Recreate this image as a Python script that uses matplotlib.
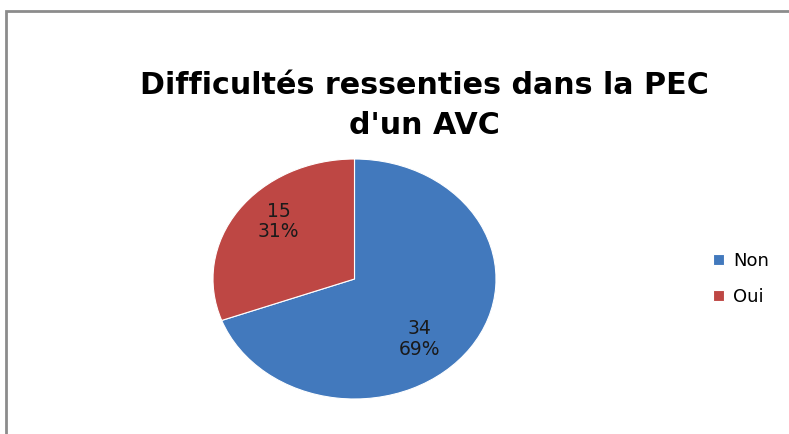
import matplotlib.pyplot as plt
from matplotlib.patches import Rectangle

# data
labels = ['Non', 'Oui']
counts = [34, 15]
colors = ['#4279BD', '#BE4744']
title_lines = ["Difficultés ressenties dans la PEC", "d'un AVC"]

W, H = 789, 434
fig = plt.figure(figsize=(W / 100, H / 100), dpi=100)

# chart area border (only left and top are visible in the crop)
fig.add_artist(Rectangle((5.5 / W, -0.1), 2.0, 1.1 - 11 / H, transform=fig.transFigure,
                         fill=False, edgecolor='#8c8c8c', linewidth=2))

# pie box in pixels: x 213..496, y 159..399 (from top)
ax = fig.add_axes([213 / W, (H - 399) / H, 283 / W, 240 / H])
total = sum(counts)
wedges, texts = ax.pie(counts, colors=colors, startangle=90, counterclock=False,
                       wedgeprops=dict(linewidth=0.8, edgecolor='white'))
ax.set_aspect('auto')
ax.set_xlim(-1, 1)
ax.set_ylim(-1, 1)

# data labels: value and percentage
label_pos = [(0.46, -0.5), (-0.535, 0.48)]
for c, (x, y) in zip(counts, label_pos):
    ax.text(x, y, f'{c}\n{c / total:.0%}', ha='center', va='center',
            fontsize=13.5, family='DejaVu Sans', color='#1a1a1a', linespacing=1.1)

for line, base in zip(title_lines, [94, 134]):
    fig.text(424 / W, 1 - base / H, line, ha='center', va='baseline', fontsize=21.7,
             fontweight='bold', family='DejaVu Sans')

leg = fig.legend(wedges, labels, loc='center left', bbox_to_anchor=(697 / W, 1 - 279 / H),
                 frameon=False, prop=dict(family='DejaVu Sans', size=13),
                 handlelength=0.6, handleheight=0.6, handletextpad=0.5, labelspacing=1.0)

fig.savefig('out.png', dpi=100)
